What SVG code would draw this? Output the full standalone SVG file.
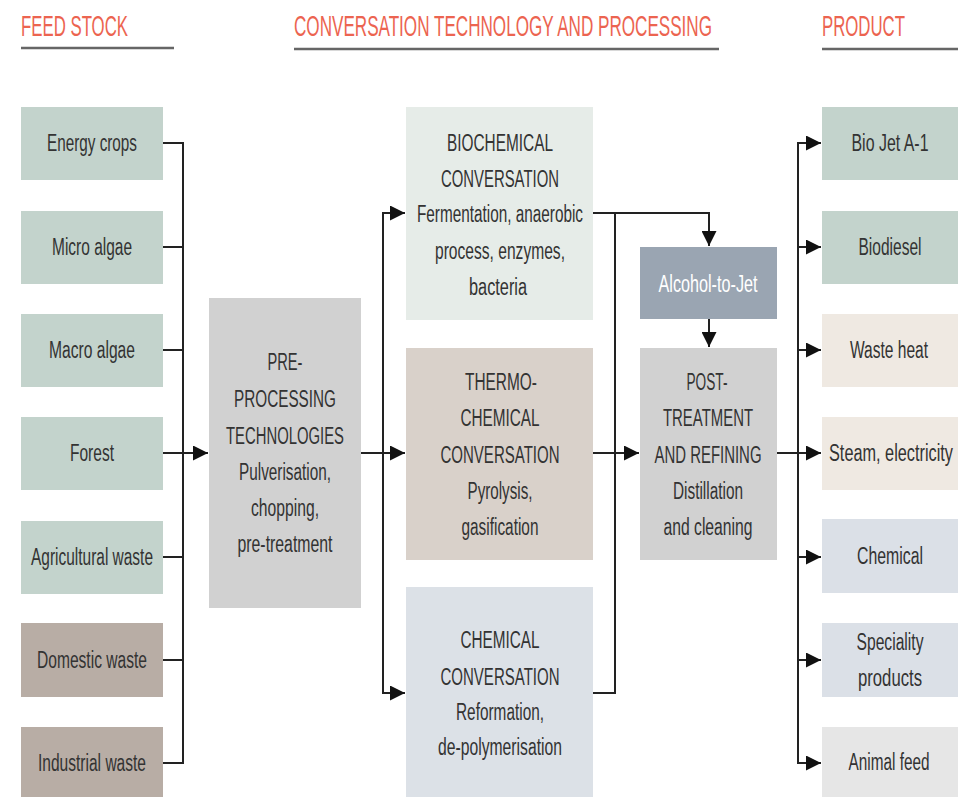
<svg xmlns="http://www.w3.org/2000/svg" width="960" height="797" viewBox="0 0 960 797">
<style>
.hd{font-family:"Liberation Sans",Arial,sans-serif;font-size:30px;fill:#ec6450}
.ul{stroke:#666;stroke-width:2.5;fill:none}
.t{font-family:"Liberation Sans",Arial,sans-serif;font-size:23px;fill:#333;text-anchor:middle}
.w{fill:#fff}
.c{stroke:#222;stroke-width:2;fill:none}
.green{fill:#c3d3cc}
.brown{fill:#b8ada5}
.grey{fill:#d1d1d1}
.bio{fill:#e6ece8}
.thermo{fill:#d9d1ca}
.chem{fill:#dce1e7}
.atj{fill:#9aa5b2}
.beige{fill:#efe9e2}
.blue{fill:#dbe0e7}
.lgrey{fill:#e6e6e6}
</style>
<defs>
<marker id="ah" viewBox="0 0 10 10" refX="10" refY="5" markerWidth="7.5" markerHeight="7.5" markerUnits="strokeWidth" orient="auto">
<path d="M0,0 L10,5 L0,10 Z" fill="#111"/>
</marker>
</defs>
<rect width="960" height="797" fill="#fff"/>
<g id="headers">
<text class="hd" x="21" y="36" textLength="107" lengthAdjust="spacingAndGlyphs">FEED STOCK</text>
<line class="ul" x1="21" y1="48" x2="174" y2="48"/>
<text class="hd" x="294" y="36" textLength="418" lengthAdjust="spacingAndGlyphs">CONVERSATION TECHNOLOGY AND PROCESSING</text>
<line class="ul" x1="294" y1="49" x2="719" y2="49"/>
<text class="hd" x="822" y="36" textLength="83" lengthAdjust="spacingAndGlyphs">PRODUCT</text>
<line class="ul" x1="822" y1="49" x2="958" y2="49"/>
</g>
<g id="feed-energy"><rect class="green" x="21" y="107" width="142" height="73"/><text class="t" x="92" y="151" textLength="90" lengthAdjust="spacingAndGlyphs">Energy crops</text></g>
<g id="feed-micro"><rect class="green" x="21" y="211" width="142" height="73"/><text class="t" x="92" y="255" textLength="80" lengthAdjust="spacingAndGlyphs">Micro algae</text></g>
<g id="feed-macro"><rect class="green" x="21" y="314" width="142" height="73"/><text class="t" x="92" y="358" textLength="86" lengthAdjust="spacingAndGlyphs">Macro algae</text></g>
<g id="feed-forest"><rect class="green" x="21" y="417" width="142" height="73"/><text class="t" x="92" y="461" textLength="44" lengthAdjust="spacingAndGlyphs">Forest</text></g>
<g id="feed-agri"><rect class="green" x="21" y="521" width="142" height="73"/><text class="t" x="92" y="565" textLength="122" lengthAdjust="spacingAndGlyphs">Agricultural waste</text></g>
<g id="feed-domestic"><rect class="brown" x="21" y="623" width="142" height="74"/><text class="t" x="92" y="668" textLength="110" lengthAdjust="spacingAndGlyphs">Domestic waste</text></g>
<g id="feed-industrial"><rect class="brown" x="21" y="727" width="142" height="70"/><text class="t" x="92" y="771" textLength="108" lengthAdjust="spacingAndGlyphs">Industrial waste</text></g>
<g id="preprocessing"><rect class="grey" x="209" y="298" width="152" height="310"/>
<text class="t" x="285" y="370" textLength="35" lengthAdjust="spacingAndGlyphs">PRE-</text>
<text class="t" x="285" y="407" textLength="102" lengthAdjust="spacingAndGlyphs">PROCESSING</text>
<text class="t" x="285" y="444" textLength="118" lengthAdjust="spacingAndGlyphs">TECHNOLOGIES</text>
<text class="t" x="285" y="480" textLength="92" lengthAdjust="spacingAndGlyphs">Pulverisation,</text>
<text class="t" x="285" y="516" textLength="68" lengthAdjust="spacingAndGlyphs">chopping,</text>
<text class="t" x="285" y="552" textLength="95" lengthAdjust="spacingAndGlyphs">pre-treatment</text>
</g>
<g id="biochemical"><rect class="bio" x="406" y="107" width="187" height="213"/>
<text class="t" x="500" y="151" textLength="106" lengthAdjust="spacingAndGlyphs">BIOCHEMICAL</text>
<text class="t" x="500" y="187" textLength="118" lengthAdjust="spacingAndGlyphs">CONVERSATION</text>
<text class="t" x="500" y="222" textLength="166" lengthAdjust="spacingAndGlyphs">Fermentation, anaerobic</text>
<text class="t" x="500" y="259" textLength="130" lengthAdjust="spacingAndGlyphs">process, enzymes,</text>
<text class="t" x="498" y="295" textLength="58" lengthAdjust="spacingAndGlyphs">bacteria</text>
</g>
<g id="thermochemical"><rect class="thermo" x="406" y="348" width="187" height="212"/>
<text class="t" x="501" y="390" textLength="72" lengthAdjust="spacingAndGlyphs">THERMO-</text>
<text class="t" x="500" y="426" textLength="79" lengthAdjust="spacingAndGlyphs">CHEMICAL</text>
<text class="t" x="500" y="463" textLength="119" lengthAdjust="spacingAndGlyphs">CONVERSATION</text>
<text class="t" x="500" y="499" textLength="65" lengthAdjust="spacingAndGlyphs">Pyrolysis,</text>
<text class="t" x="500" y="535" textLength="77" lengthAdjust="spacingAndGlyphs">gasification</text>
</g>
<g id="chemical"><rect class="chem" x="406" y="587" width="187" height="210"/>
<text class="t" x="500" y="648" textLength="79" lengthAdjust="spacingAndGlyphs">CHEMICAL</text>
<text class="t" x="500" y="685" textLength="119" lengthAdjust="spacingAndGlyphs">CONVERSATION</text>
<text class="t" x="500" y="720" textLength="88" lengthAdjust="spacingAndGlyphs">Reformation,</text>
<text class="t" x="500" y="755" textLength="124" lengthAdjust="spacingAndGlyphs">de-polymerisation</text>
</g>
<g id="alcohol-to-jet"><rect class="atj" x="640" y="247" width="137" height="72"/>
<text class="t w" x="708" y="292" textLength="99" lengthAdjust="spacingAndGlyphs">Alcohol-to-Jet</text>
</g>
<g id="post-treatment"><rect class="grey" x="640" y="348" width="137" height="212"/>
<text class="t" x="707" y="390" textLength="41" lengthAdjust="spacingAndGlyphs">POST-</text>
<text class="t" x="708" y="426" textLength="90" lengthAdjust="spacingAndGlyphs">TREATMENT</text>
<text class="t" x="708" y="463" textLength="107" lengthAdjust="spacingAndGlyphs">AND REFINING</text>
<text class="t" x="708" y="499" textLength="70" lengthAdjust="spacingAndGlyphs">Distillation</text>
<text class="t" x="708" y="535" textLength="89" lengthAdjust="spacingAndGlyphs">and cleaning</text>
</g>
<g id="prod-biojet"><rect class="green" x="822" y="107" width="136" height="73"/><text class="t" x="890" y="151" textLength="77" lengthAdjust="spacingAndGlyphs">Bio Jet A-1</text></g>
<g id="prod-biodiesel"><rect class="green" x="822" y="211" width="136" height="73"/><text class="t" x="890" y="255" textLength="63" lengthAdjust="spacingAndGlyphs">Biodiesel</text></g>
<g id="prod-wasteheat"><rect class="beige" x="822" y="314" width="136" height="73"/><text class="t" x="889" y="358" textLength="78" lengthAdjust="spacingAndGlyphs">Waste heat</text></g>
<g id="prod-steam"><rect class="beige" x="822" y="417" width="136" height="73"/><text class="t" x="891" y="461" textLength="124" lengthAdjust="spacingAndGlyphs">Steam, electricity</text></g>
<g id="prod-chemical"><rect class="blue" x="822" y="519" width="136" height="74"/><text class="t" x="890" y="564" textLength="66" lengthAdjust="spacingAndGlyphs">Chemical</text></g>
<g id="prod-speciality"><rect class="blue" x="822" y="623" width="136" height="74"/>
<text class="t" x="890" y="650" textLength="67" lengthAdjust="spacingAndGlyphs">Speciality</text>
<text class="t" x="890" y="686" textLength="64" lengthAdjust="spacingAndGlyphs">products</text></g>
<g id="prod-animalfeed"><rect class="lgrey" x="822" y="727" width="136" height="70"/><text class="t" x="889" y="770" textLength="81" lengthAdjust="spacingAndGlyphs">Animal feed</text></g>
<g id="connectors">
<path class="c" d="M163,143 H183 V763 H163"/>
<path class="c" d="M163,247 H183 M163,350 H183 M163,557 H183 M163,660 H183"/>
<path class="c" d="M163,453 H208" marker-end="url(#ah)"/>
<path class="c" d="M361,453 H405" marker-end="url(#ah)"/>
<path class="c" d="M405,213 H383 V693 H405"/>
<path class="c" d="M383,213 H405" marker-end="url(#ah)"/>
<path class="c" d="M383,693 H405" marker-end="url(#ah)"/>
<path class="c" d="M593,213 H709 V246" marker-end="url(#ah)"/>
<path class="c" d="M615,213 V693 H593"/>
<path class="c" d="M593,453 H639" marker-end="url(#ah)"/>
<path class="c" d="M709,319 V347" marker-end="url(#ah)"/>
<path class="c" d="M777,453 H821" marker-end="url(#ah)"/>
<path class="c" d="M821,143 H798 V763 H821"/>
<path class="c" d="M798,143 H821" marker-end="url(#ah)"/>
<path class="c" d="M798,247 H821" marker-end="url(#ah)"/>
<path class="c" d="M798,350 H821" marker-end="url(#ah)"/>
<path class="c" d="M798,557 H821" marker-end="url(#ah)"/>
<path class="c" d="M798,660 H821" marker-end="url(#ah)"/>
<path class="c" d="M798,763 H821" marker-end="url(#ah)"/>
</g>
</svg>
